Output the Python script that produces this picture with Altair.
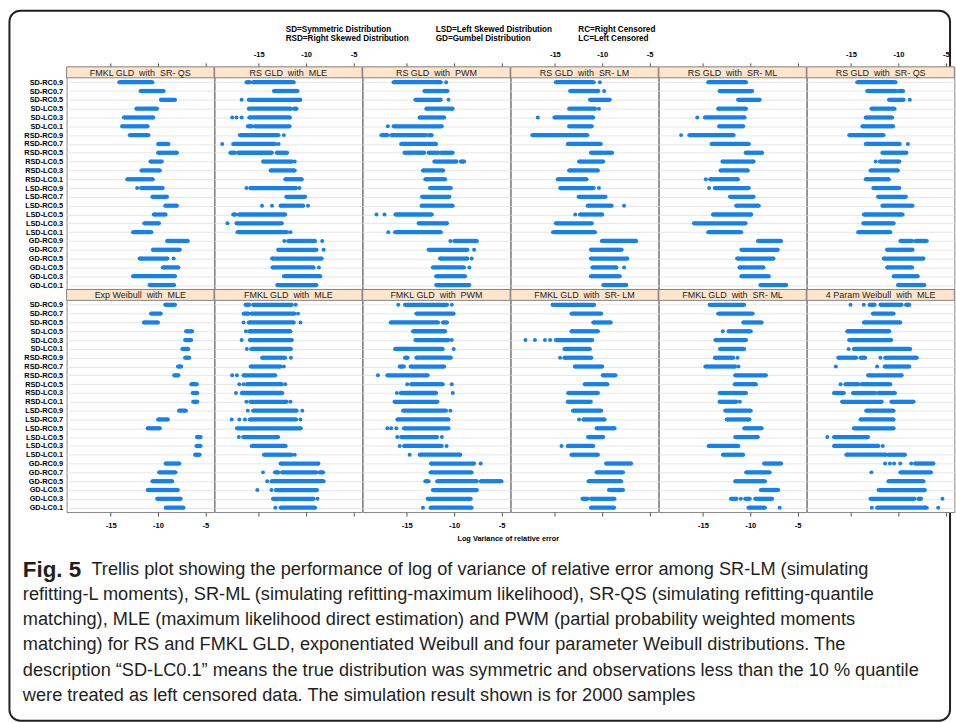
import altair as alt
import pandas as pd

# ---------------------------------------------------------------- data
ROWS = [
    "SD-RC0.9", "SD-RC0.7", "SD-RC0.5", "SD-LC0.5", "SD-LC0.3", "SD-LC0.1",
    "RSD-RC0.9", "RSD-RC0.7", "RSD-RC0.5", "RSD-LC0.5", "RSD-LC0.3", "RSD-LC0.1",
    "LSD-RC0.9", "LSD-RC0.7", "LSD-RC0.5", "LSD-LC0.5", "LSD-LC0.3", "LSD-LC0.1",
    "GD-RC0.9", "GD-RC0.7", "GD-RC0.5", "GD-LC0.5", "GD-LC0.3", "GD-LC0.1",
]

TOP_PANELS = [
    "FMKL GLD  with  SR- QS", "RS GLD  with  MLE", "RS GLD  with  PWM",
    "RS GLD  with  SR- LM", "RS GLD  with  SR- ML", "RS GLD  with  SR- QS",
]
BOTTOM_PANELS = [
    "Exp Weibull  with  MLE", "FMKL GLD  with  MLE", "FMKL GLD  with  PWM",
    "FMKL GLD  with  SR- LM", "FMKL GLD  with  SR- ML", "4 Param Weibull  with  MLE",
]

TICKS = [-15, -10, -5]

# Log variance of relative error per scenario: each entry lists the runs of
# simulated values as (low, high); a lone number is an isolated value.
fmkl_srqs = [
    [(-14.1, -10.6)], [(-11.85, -9.4)], [(-9.7, -8.2)], [(-12.3, -10.1)],
    [(-13.6, -10.5)], [(-13.8, -11.1)], [(-13.0, -11.0)], [(-10.0, -8.9)],
    [(-10.0, -8.0)], [(-10.8, -9.6)], [(-11.75, -9.8)], [(-13.25, -10.55)],
    [-12.2, (-11.8, -9.5)], [(-10.6, -9.05)], [(-9.25, -8.0)], [(-10.45, -9.2)],
    [(-11.45, -9.9)], [(-12.65, -10.7)], [(-9.05, -6.85)], [(-10.55, -7.7)],
    [(-11.95, -9.0), -8.35], [(-9.5, -7.85)], [(-12.65, -8.2)], [(-10.9, -8.3)],
]
rs_mle = [
    [(-16.3, -15.9), (-15.6, -11.3)], [(-13.4, -10.9)], [-16.8, (-16.05, -10.6)],
    [(-16.05, -11.6), (-11.3, -11.0)], [-17.8, -17.35, -16.8, (-16.0, -11.7)],
    [(-16.15, -15.7), (-15.4, -11.75)], [(-17.0, -12.9), -12.35],
    [-18.85, (-17.7, -13.25), -12.9], [(-18.0, -17.5), (-17.2, -13.6), (-13.1, -12.0)],
    [(-14.55, -11.5), -11.2], [(-13.75, -11.2)], [(-12.2, -10.45)],
    [-16.3, (-15.9, -11.05), -10.7], [(-12.1, -10.1)],
    [-14.65, -13.6, (-12.7, -10.3), -9.8], [(-17.7, -17.45), (-17.1, -12.2)],
    [-18.3, (-17.35, -12.55)], [(-17.25, -12.0), -11.65],
    [-12.3, (-11.9, -9.05), -8.3], [(-12.95, -8.9), -8.15], [(-13.6, -8.35)],
    [(-13.55, -9.2), -8.65], [(-12.35, -8.5)], [(-13.05, -8.9)],
]
rs_pwm = [
    [(-16.4, -11.4), -10.85], [(-13.15, -10.7)], [(-14.1, -11.4), -10.6],
    [(-12.95, -10.15)], [(-13.65, -11.05)], [-17.0, (-16.4, -11.3)],
    [(-17.7, -17.0), (-16.65, -12.95), (-12.7, -12.35)], [(-15.6, -11.9)],
    [(-15.25, -13.15), (-12.7, -11.65), (-11.4, -10.15)], [(-12.1, -9.75), (-9.3, -8.95)],
    [(-13.3, -11.15)], [(-13.05, -10.95)], [(-12.55, -10.35)], [(-13.4, -10.5)],
    [(-13.45, -10.15)], [-18.2, -17.35, (-16.2, -12.35)], [(-13.75, -10.75)],
    [-16.95, (-16.25, -11.4)], [-10.4, (-10.0, -7.6)], [(-12.7, -8.6), -7.9],
    [(-11.5, -8.6), -8.15], [(-12.25, -8.95), -8.4], [(-11.9, -8.85)], [(-11.9, -8.4)],
]
rs_srlm = [
    [(-14.9, -10.9), -10.25], [(-13.4, -10.4), -9.8], [(-11.3, -9.2)],
    [(-13.5, -10.75), -10.35], [-16.8, (-15.05, -10.95)], [(-13.5, -11.1)],
    [(-17.4, -11.55)], [(-13.65, -10.15)], [(-11.2, -8.95)], [(-12.45, -9.9)],
    [(-13.5, -10.45)], [(-14.7, -11.65)], [(-14.45, -10.9), -10.35], [(-12.5, -9.65)],
    [(-11.55, -9.0), -7.7], [-12.85, (-12.35, -10.0)], [(-14.9, -11.1)],
    [(-15.2, -10.75)], [(-10.05, -6.4)], [(-11.2, -7.95)], [(-11.2, -7.35)],
    [(-11.05, -8.5), -7.7], [(-11.2, -8.15)], [(-9.9, -7.45)],
]
rs_srml = [
    [(-14.45, -10.45)], [(-13.25, -9.8)], [(-11.3, -9.0)], [(-13.4, -10.45)],
    [-15.6, (-14.8, -10.6)], [(-13.3, -10.75)], [-17.3, (-16.45, -11.75)],
    [(-14.1, -10.15)], [(-10.5, -8.75)], [(-12.95, -9.65)], [(-13.15, -10.25)],
    [-14.7, (-14.25, -11.3)], [-14.35, (-13.75, -10.15)], [(-12.15, -9.65)],
    [(-11.5, -9.1)], [(-13.95, -9.9)], [(-15.95, -10.5)], [(-14.45, -10.95)],
    [(-9.2, -6.75)], [(-10.95, -7.1)], [(-11.4, -7.55)], [(-11.15, -8.6)],
    [(-10.95, -8.05)], [(-8.95, -6.2)],
]
rs_srqs = [
    [(-14.35, -10.3)], [(-13.3, -10.2), (-9.95, -9.5)], [(-11.0, -9.45), -8.8],
    [(-12.85, -10.4)], [(-13.45, -10.65)], [(-13.8, -10.55)], [(-15.2, -11.55)],
    [(-13.45, -9.85), -9.0], [(-11.7, -9.15)], [-12.4, (-11.95, -9.9)],
    [(-12.95, -10.05)], [(-13.45, -11.0)], [(-12.65, -9.9)], [(-12.15, -9.2)],
    [(-11.7, -8.5)], [(-13.65, -9.55)], [(-13.7, -10.5)], [(-14.25, -10.85)],
    [(-9.8, -8.55), (-8.2, -7.0)], [(-11.2, -8.5)], [(-11.55, -7.35)],
    [(-11.2, -8.55)], [(-10.5, -7.95)], [(-10.05, -7.25)],
]
expweibull_mle = [
    [(-9.25, -8.2)], [(-10.75, -9.7)], [(-11.5, -10.0)], [(-7.05, -6.4)],
    [(-7.15, -6.5)], [(-7.45, -6.8)], [(-7.15, -6.7)], [(-7.9, -7.55)],
    [(-8.3, -7.85)], [(-6.5, -5.9)], [(-6.35, -5.85)], [(-6.3, -5.85)],
    [(-7.8, -7.05)], [(-10.0, -8.95)], [(-11.1, -9.8)], [(-5.9, -5.5)],
    [(-5.95, -5.5)], [(-6.1, -5.6)], [(-9.2, -7.75)], [(-9.9, -8.15)],
    [(-10.6, -8.5)], [(-11.1, -7.9)], [(-10.1, -7.6)], [(-9.2, -7.3)],
]
fmkl_mle = [
    [(-16.4, -16.0), (-15.6, -11.5), -11.1], [(-16.6, -16.05), (-15.8, -11.2), -10.85],
    [-16.6, (-16.05, -11.3), -10.6], [-16.35, (-16.0, -11.65)], [-16.8, (-15.95, -11.5)],
    [-16.25, (-15.8, -11.6)], [(-14.65, -12.2), -11.6], [(-15.85, -12.7), -12.35],
    [-17.8, -17.3, (-16.6, -13.25)], [-17.05, -16.6, (-16.25, -12.55), -12.2],
    [-17.4, (-16.8, -12.5)], [-16.3, (-15.9, -12.05), -11.65],
    [-16.15, (-15.6, -11.0), -10.4], [-17.85, -17.05, -16.45, (-15.95, -11.05), -10.6],
    [(-17.3, -10.55)], [-17.1, (-16.65, -12.95)], [(-15.75, -12.15)],
    [(-14.45, -11.55), -11.2], [(-12.7, -8.7)],
    [-14.55, (-13.3, -12.9), (-12.55, -8.9), (-8.6, -8.2)], [-14.1, (-13.65, -8.15)],
    [-15.15, -13.65, (-13.2, -8.85)], [(-13.5, -9.2), -8.8], [-13.25, (-12.7, -9.05)],
]
fmkl_pwm = [
    [-15.9, (-15.2, -10.75), -10.25], [(-14.0, -10.05)], [(-16.7, -11.7), (-11.2, -10.75)],
    [(-14.35, -10.95)], [(-14.1, -10.6), -10.25], [(-16.25, -11.2), -10.05],
    [(-15.2, -14.9), (-14.0, -10.35)], [(-15.75, -15.3), (-14.6, -11.05)],
    [-18.05, (-17.05, -12.8)], [-14.95, (-14.55, -11.2), -10.25],
    [-16.05, (-15.65, -11.9), -10.15], [(-16.3, -11.75)], [(-15.4, -10.85), -10.4],
    [(-16.0, -10.6)], [-17.05, -16.65, -16.1, (-15.3, -10.6)],
    [-16.0, (-15.6, -11.8), -11.3], [-15.75, (-15.3, -11.3), -10.8],
    [-14.7, (-13.65, -9.35)], [(-12.45, -7.9), -7.2], [(-12.5, -8.15)],
    [(-13.05, -12.7), (-11.8, -7.6), (-7.2, -5.0)], [(-12.25, -7.6)],
    [(-12.8, -8.25)], [-13.3, (-12.5, -8.15)],
]
fmkl_srlm = [
    [(-15.25, -10.85)], [(-13.25, -10.1)], [(-10.95, -9.1)], [(-13.25, -10.45)],
    [-18.1, -17.1, -16.05, -15.5, (-14.9, -11.05)], [(-14.0, -11.3)],
    [-14.45, (-14.0, -11.15)], [(-12.9, -10.0)], [(-9.95, -8.6)], [(-11.85, -9.45)],
    [(-13.6, -10.45)], [(-13.65, -11.2)], [(-13.1, -10.1)], [-12.45, (-12.0, -9.75)],
    [(-10.6, -8.7)], [(-11.5, -9.9)], [-14.3, (-13.65, -10.95)], [(-13.25, -10.45)],
    [(-9.6, -6.95)], [(-10.6, -7.8)], [(-11.45, -8.0)], [(-9.3, -7.8)],
    [(-12.1, -11.55), (-11.2, -8.7)], [(-11.2, -8.75)],
]
fmkl_srml = [
    [(-14.3, -10.65)], [(-13.4, -9.75)], [(-10.75, -8.8)], [-12.9, (-12.3, -9.95)],
    [(-13.7, -10.45)], [(-13.2, -10.65)], [(-13.75, -11.8), -11.35],
    [(-14.75, -11.6), -11.25], [(-11.6, -8.35)], [(-11.65, -9.4)], [(-13.25, -10.45)],
    [(-13.25, -11.45), -11.1], [(-12.65, -9.95)], [(-12.5, -10.1)], [(-10.65, -8.8)],
    [(-11.6, -9.2)], [(-14.4, -11.25)], [(-12.9, -10.75)], [(-8.55, -6.75)],
    [(-10.45, -7.95)], [(-11.6, -8.45)], [(-8.9, -7.05)],
    [(-12.05, -11.45), -11.0, (-10.55, -10.05), (-9.5, -7.7)], [(-10.2, -8.45), -6.9],
]
weibull4_mle = [
    [-15.05, -13.65, (-13.05, -12.5), (-11.9, -9.65), (-9.2, -8.85)], [(-12.7, -10.5)],
    [(-13.65, -9.8)], [(-15.4, -10.95)], [(-15.2, -10.75)], [-15.25, (-14.7, -8.75)],
    [(-16.35, -14.45), (-14.0, -13.5), -11.9, (-11.4, -8.05)],
    [-16.6, -12.25, (-11.45, -8.85)], [(-13.2, -9.65)],
    [-16.1, (-15.6, -14.2), (-13.9, -10.85)],
    [(-16.8, -15.75), (-14.8, -12.45), (-12.15, -10.35)],
    [(-15.95, -11.75), (-10.75, -8.4)], [(-13.4, -10.5)], [(-14.0, -10.5)],
    [(-14.7, -10.5)], [-17.5, (-16.8, -13.2)], [(-16.8, -12.1), -11.65],
    [(-15.5, -11.3), (-11.05, -9.3)],
    [-11.4, -10.9, -10.45, -9.8, -8.65, (-8.25, -6.3)], [-12.85, (-9.8, -6.55)],
    [(-11.05, -7.35)], [(-12.1, -7.2)], [(-12.95, -8.3), (-7.9, -7.6), -5.35],
    [-12.8, (-12.25, -7.0), -5.8],
]

PANEL_DATA = {
    "FMKL GLD  with  SR- QS": fmkl_srqs,
    "RS GLD  with  MLE": rs_mle,
    "RS GLD  with  PWM": rs_pwm,
    "RS GLD  with  SR- LM": rs_srlm,
    "RS GLD  with  SR- ML": rs_srml,
    "RS GLD  with  SR- QS": rs_srqs,
    "Exp Weibull  with  MLE": expweibull_mle,
    "FMKL GLD  with  MLE": fmkl_mle,
    "FMKL GLD  with  PWM": fmkl_pwm,
    "FMKL GLD  with  SR- LM": fmkl_srlm,
    "FMKL GLD  with  SR- ML": fmkl_srml,
    "4 Param Weibull  with  MLE": weibull4_mle,
}

KEY_LINES = [
    ["SD=Symmetric Distribution", "RSD=Right Skewed Distribution"],
    ["LSD=Left Skewed Distribution", "GD=Gumbel Distribution"],
    ["RC=Right Censored", "LC=Left Censored"],
]
AXIS_TITLE = "Log Variance of relative error"
CAPTION_LEAD = "Fig. 5"
CAPTION = [
    "Trellis plot showing the performance of log of variance of relative error among SR-LM (simulating",
    "refitting-L moments), SR-ML (simulating refitting-maximum likelihood), SR-QS (simulating refitting-quantile",
    "matching), MLE (maximum likelihood direct estimation) and PWM (partial probability weighted moments",
    "matching) for RS and FMKL GLD, exponentiated Weibull and four parameter Weibull distributions. The",
    "description \u201cSD-LC0.1\u201d means the true distribution was symmetric and observations less than the 10 % quantile",
    "were treated as left censored data. The simulation result shown is for 2000 samples",
]

# ---------------------------------------------------------------- style
FONT = "Liberation Sans"
BLUE = "#1681ea"
STRIP = "#ffe5cc"
FRAME_GREY = "#858585"
GRID = "#e6e6e6"
INK = "#231f20"

X_DOMAIN = [-19.65, -4.1]
PW, PH, HH = 148.3, 213, 11      # panel width, plot height, strip height
LEFT = 65.5                       # room for the row labels
TOP = 64                          # room above the first strip row

one = pd.DataFrame({"k": [0]})
xscale = alt.Scale(domain=X_DOMAIN, nice=False, zero=False)
# rows sit below the strip that carries the panel name
yscale = alt.Scale(type="point", domain=ROWS, padding=0.5, range=[HH, HH + PH])


def split_runs(rows):
    segs, dots = [], []
    for label, runs in zip(ROWS, rows):
        for r in runs:
            lo, hi = (r, r) if isinstance(r, (int, float)) else r
            dots.append({"row": label, "v": lo})
            if hi > lo:
                segs.append({"row": label, "lo": lo, "hi": hi})
                dots.append({"row": label, "v": hi})
    return pd.DataFrame(segs), pd.DataFrame(dots)


def tick_axis(orient, show_labels):
    return alt.Axis(
        orient=orient, values=TICKS, labels=show_labels, ticks=True, tickSize=4,
        tickColor="#555555", tickWidth=1, domain=False, grid=False, title=None,
        labelFont=FONT, labelFontSize=7.6, labelFontWeight="bold", labelColor="black",
        labelPadding=4 if orient == "top" else 6, labelExpr="'' + datum.value",
    )


def panel(name, col, top_row):
    segs, dots = split_runs(PANEL_DATA[name])
    yaxis = alt.Axis(
        labels=(col == 0), ticks=False, domain=False, grid=True, gridColor=GRID,
        gridWidth=1, title=None, labelFont=FONT, labelFontSize=7.4,
        labelFontWeight="bold", labelColor="black", labelPadding=4, labelOverlap=False,
    )
    if top_row:
        xaxis = tick_axis("top", col % 2 == 1)
    else:
        xaxis = tick_axis("bottom", col % 2 == 0)
    y = alt.Y("row:N", sort=ROWS, scale=yscale, axis=yaxis)
    base = alt.Chart(one)
    strip = base.mark_rect(fill=STRIP, stroke=FRAME_GREY, strokeWidth=1).encode(
        x=alt.value(0), x2=alt.value(PW), y=alt.value(0), y2=alt.value(HH)
    )
    # keep the doubled spaces of the strip label (SVG would collapse them)
    title = base.mark_text(
        text=name.replace("  ", " \u00a0"), font=FONT, fontSize=9, color="#1a1a1a",
        baseline="middle", align="center",
    ).encode(x=alt.value(PW / 2), y=alt.value(HH / 2 + 0.4))
    runs = alt.Chart(segs).mark_rule(color=BLUE, strokeWidth=4.3).encode(
        x=alt.X("lo:Q", scale=xscale, axis=xaxis), x2="hi:Q", y=y
    )
    pts = alt.Chart(dots).mark_circle(color=BLUE, size=16, opacity=1).encode(
        x=alt.X("v:Q", scale=xscale, axis=xaxis), y=y
    )
    return alt.layer(runs, pts, strip, title).properties(
        width=PW, height=HH + PH,
        view=alt.ViewBackground(fill="white", stroke=FRAME_GREY, strokeWidth=1),
    )


def spacer():
    return alt.Chart(one).mark_text(text="").encode(
        x=alt.value(0), y=alt.value(0)
    ).properties(width=LEFT, height=HH + PH, view=alt.ViewBackground(stroke="transparent"))


cells = [spacer()] + [panel(n, i, True) for i, n in enumerate(TOP_PANELS)]
cells += [spacer()] + [panel(n, i, False) for i, n in enumerate(BOTTOM_PANELS)]
grid = alt.concat(*cells, columns=7, spacing=0, bounds="flush", align="each")

# ---------------------------------------------------------------- page furniture
base = alt.Chart(one)
furniture = [
    base.mark_rect(color="white").encode(
        x=alt.value(0), x2=alt.value(956), y=alt.value(0), y2=alt.value(723)),
    base.mark_rect(fill="transparent", stroke=INK, strokeWidth=2, cornerRadius=11).encode(
        x=alt.value(8.5), x2=alt.value(955), y=alt.value(7.5), y2=alt.value(722)),
]
key_x = [286.5, 437.5, 581]
for col, lines in zip(key_x, KEY_LINES):
    for j, txt in enumerate(lines):
        furniture.append(base.mark_text(
            text=txt, font=FONT, fontSize=8.2, fontWeight="bold", color="black",
            align="left", baseline="middle",
        ).encode(x=alt.value(col), y=alt.value(27.3 + 8.7 * j)))

furniture.append(base.mark_text(
    text=AXIS_TITLE, font=FONT, fontSize=7.4, fontWeight="bold", color="black",
    align="center", baseline="middle",
).encode(x=alt.value(LEFT + 3 * PW), y=alt.value(539)))

furniture.append(base.mark_text(
    text=CAPTION_LEAD, font=FONT, fontSize=22.5, fontWeight="bold", color=INK,
    align="left", baseline="middle",
).encode(x=alt.value(22), y=alt.value(570)))
for i, line in enumerate(CAPTION):
    furniture.append(base.mark_text(
        text=line, font=FONT, fontSize=18.3, color=INK,
        align="left", baseline="middle",
    ).encode(x=alt.value(91 if i == 0 else 22), y=alt.value(570.5 + 25.25 * i)))

page = alt.layer(*furniture).properties(
    width=956, height=TOP, view=alt.ViewBackground(stroke="transparent")
)

chart = alt.vconcat(page, grid, spacing=0, bounds="flush").properties(
    padding=0, background="white"
)

chart.save("out.html", embed_options={"renderer": "svg", "actions": False})
